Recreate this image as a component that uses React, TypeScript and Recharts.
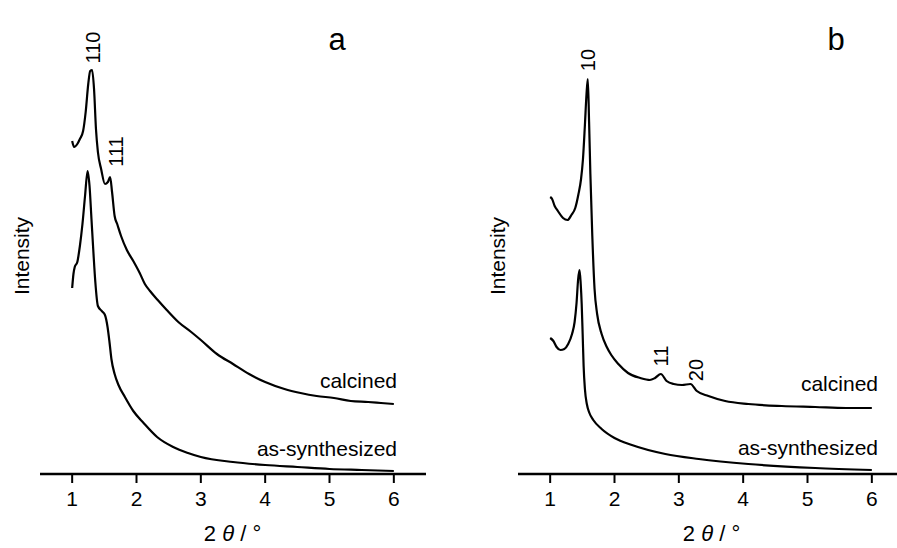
import { LineChart, Line, XAxis, YAxis } from 'recharts'

const TICKS = [1, 2, 3, 4, 5, 6]

// panel a, calcined
const A_CAL_X = [1.0, 1.03, 1.08, 1.12, 1.17, 1.21, 1.25, 1.28, 1.31, 1.34, 1.37, 1.4, 1.45, 1.51, 1.555, 1.59, 1.62, 1.66, 1.7, 1.76, 1.85, 1.95, 2.05, 2.13, 2.21, 2.33, 2.47, 2.65, 2.85, 3.0, 3.25, 3.5, 3.75, 4.0, 4.3, 4.55, 4.8, 5.07, 5.33, 5.6, 5.8, 6.0]
const A_CAL_Y = [333, 327, 330, 335, 343, 362, 390, 403, 404, 385, 345, 322, 305, 290, 292, 297, 282, 258, 250, 238, 224, 213, 201, 190, 183, 174, 164, 152, 142, 134, 120, 110, 100, 92, 85, 81, 78, 76, 73, 72, 71, 70]
// panel a, as-synthesized
const A_SYN_X = [1.0, 1.02, 1.04, 1.08, 1.12, 1.16, 1.2, 1.24, 1.27, 1.3, 1.33, 1.36, 1.4, 1.46, 1.51, 1.55, 1.58, 1.61, 1.66, 1.72, 1.82, 1.95, 2.11, 2.32, 2.57, 2.8, 3.0, 3.5, 4.0, 4.5, 5.0, 5.5, 6.0]
const A_SYN_Y = [186, 200, 207, 212, 228, 250, 278, 303, 288, 255, 222, 192, 168, 163, 159, 147, 132, 115, 100, 89, 77, 63, 51, 37, 27, 21, 17, 12, 9, 7, 5, 4, 3]

// panel b, calcined
const B_CAL_X = [1.0, 1.03, 1.07, 1.12, 1.2, 1.27, 1.33, 1.39, 1.44, 1.48, 1.51, 1.54, 1.565, 1.585, 1.605, 1.625, 1.655, 1.69, 1.73, 1.8, 1.88, 1.95, 2.06, 2.21, 2.4, 2.55, 2.63, 2.72, 2.81, 2.92, 3.05, 3.18, 3.28, 3.46, 3.72, 4.08, 4.6, 5.12, 5.6, 6.0]
const B_CAL_Y = [277, 275, 268, 263, 256, 254, 259, 266, 280, 295, 315, 349, 380, 395, 352, 300, 238, 185, 160, 140, 127, 119, 110, 101, 96, 94, 96, 100, 93, 90, 89, 90, 83, 78, 73, 70, 68, 67, 66, 66]
// panel b, as-synthesized
const B_SYN_X = [1.0, 1.05, 1.1, 1.16, 1.22, 1.28, 1.34, 1.38, 1.41, 1.435, 1.457, 1.475, 1.49, 1.505, 1.52, 1.54, 1.57, 1.61, 1.67, 1.8, 2.0, 2.27, 2.79, 3.31, 4.08, 5.12, 6.0]
const B_SYN_Y = [136, 133, 127, 124, 125, 130, 140, 152, 171, 195, 204, 190, 170, 140, 108, 85, 70, 61, 54, 45, 36, 29, 20, 15, 10, 6, 4]

const pts = (xs: number[], ys: number[]) => xs.map((x, i) => ({ x, y: ys[i] }))

const FONT = '"Liberation Sans", Arial, sans-serif'

function VText({ x, y, size = 20, children }: any) {
  return (
    <text transform={`translate(${x},${y}) rotate(-90)`} textAnchor="middle" fontSize={size} fontFamily={FONT} fill="#000">
      {children}
    </text>
  )
}

function HText({ x, y, anchor = 'end', size = 20, children }: any) {
  return (
    <text x={x} y={y} textAnchor={anchor} fontSize={size} fontFamily={FONT} fill="#000">
      {children}
    </text>
  )
}

function XLabel({ x }: { x: number }) {
  return (
    <text x={x} y={541} textAnchor="middle" fontSize={22} fontFamily={FONT} fill="#000">
      2 <tspan fontStyle="italic">θ</tspan> / °
    </text>
  )
}

function Panel({ width, marginLeft, cal, syn, children }: any) {
  return (
    <LineChart width={width} height={548} margin={{ top: 13, right: width - marginLeft - 386, left: marginLeft, bottom: 34 }}>
      <XAxis
        dataKey="x"
        type="number"
        domain={[0.5, 6.5]}
        ticks={TICKS}
        allowDataOverflow
        height={40}
        axisLine={{ stroke: '#000', strokeWidth: 2.5 }}
        tickLine={{ stroke: '#000', strokeWidth: 2 }}
        tickSize={9}
        tickMargin={8}
        tick={{ fill: '#000', fontSize: 21, fontFamily: FONT }}
      />
      <YAxis
        type="number"
        domain={[0, 461]}
        allowDataOverflow
        width={0}
        tick={false}
        tickLine={false}
        axisLine={{ stroke: '#000', strokeWidth: 2.5 }}
      />
      <Line data={cal} dataKey="y" type="monotone" stroke="#000" strokeWidth={2.2} dot={false} isAnimationActive={false} />
      <Line data={syn} dataKey="y" type="monotone" stroke="#000" strokeWidth={2.2} dot={false} isAnimationActive={false} />
      {children}
    </LineChart>
  )
}

export default function App() {
  return (
    <div style={{ position: 'absolute', left: 0, top: 0, width: 897, height: 548, overflow: 'hidden', background: '#fff' }}>
      <div style={{ position: 'absolute', left: 0, top: 0 }}>
        <Panel width={448} marginLeft={40} cal={pts(A_CAL_X, A_CAL_Y)} syn={pts(A_SYN_X, A_SYN_Y)}>
          <HText x={337} y={50} anchor="middle" size={31}>a</HText>
          <VText x={100} y={47.5}>110</VText>
          <VText x={123} y={151.5}>111</VText>
          <VText x={29} y={256} size={21}>Intensity</VText>
          <HText x={397} y={388} size={21}>calcined</HText>
          <HText x={397} y={456} size={21}>as-synthesized</HText>
          <XLabel x={232.5} />
        </Panel>
      </div>
      <div style={{ position: 'absolute', left: 449, top: 0 }}>
        <Panel width={460} marginLeft={69} cal={pts(B_CAL_X, B_CAL_Y)} syn={pts(B_SYN_X, B_SYN_Y)}>
          <HText x={387} y={50} anchor="middle" size={31}>b</HText>
          <VText x={146} y={60}>10</VText>
          <VText x={219} y={356}>11</VText>
          <VText x={254} y={370}>20</VText>
          <VText x={56} y={256} size={21}>Intensity</VText>
          <HText x={429} y={391} size={21}>calcined</HText>
          <HText x={429} y={455} size={21}>as-synthesized</HText>
          <XLabel x={262.5} />
        </Panel>
      </div>
    </div>
  )
}
